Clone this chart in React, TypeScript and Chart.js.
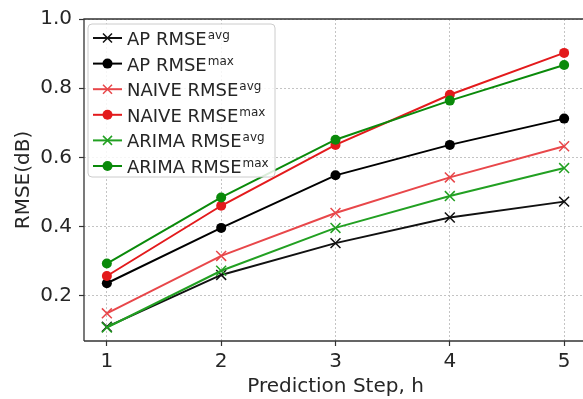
import React, { useEffect, useRef } from 'react';
import { Chart, registerables } from 'chart.js';

Chart.register(...registerables);

// ---- data ----
const steps = [1, 2, 3, 4, 5];
const apAvg = [0.11, 0.26, 0.352, 0.426, 0.472];
const apMax = [0.236, 0.396, 0.548, 0.636, 0.712];
const naiveAvg = [0.149, 0.315, 0.439, 0.542, 0.632];
const naiveMax = [0.257, 0.46, 0.636, 0.781, 0.902];
const arimaAvg = [0.108, 0.272, 0.396, 0.488, 0.569];
const arimaMax = [0.293, 0.484, 0.651, 0.764, 0.867];

const seriesBase = ['AP RMSE', 'AP RMSE', 'NAIVE RMSE', 'NAIVE RMSE', 'ARIMA RMSE', 'ARIMA RMSE'];
const seriesSup = ['avg', 'max', 'avg', 'max', 'avg', 'max'];
const seriesValues = [apAvg, apMax, naiveAvg, naiveMax, arimaAvg, arimaMax];
const seriesColors = ['#111111', '#000000', '#e8474a', '#e31a1c', '#22a022', '#0a8a0a'];
const seriesMarkers = ['crossRot', 'circle', 'crossRot', 'circle', 'crossRot', 'circle'];

const xTitle = 'Prediction Step, h';
const yTitle = 'RMSE(dB)';

const FONT = '"DejaVu Sans", "Liberation Sans", sans-serif';
const TEXT = '#262626';

const spinePlugin = {
  id: 'spines',
  beforeDatasetsDraw(chart: any) {
    const { ctx, chartArea: a } = chart;
    ctx.save();
    ctx.strokeStyle = '#333333';
    ctx.lineWidth = 1.3;
    ctx.beginPath();
    ctx.moveTo(a.left, a.bottom);
    ctx.lineTo(a.left, a.top);
    ctx.lineTo(a.right + 20, a.top);
    ctx.moveTo(a.left, a.bottom);
    ctx.lineTo(a.right + 20, a.bottom);
    ctx.stroke();
    ctx.restore();
  },
};

const legendPlugin = {
  id: 'mplLegend',
  afterDraw(chart: any) {
    const { ctx, chartArea: a } = chart;
    const x0 = a.left + 4;
    const y0 = a.top + 5;
    const w = 187;
    const h = 153;
    const r = 4;
    ctx.save();
    ctx.beginPath();
    ctx.moveTo(x0 + r, y0);
    ctx.lineTo(x0 + w - r, y0);
    ctx.arcTo(x0 + w, y0, x0 + w, y0 + r, r);
    ctx.lineTo(x0 + w, y0 + h - r);
    ctx.arcTo(x0 + w, y0 + h, x0 + w - r, y0 + h, r);
    ctx.lineTo(x0 + r, y0 + h);
    ctx.arcTo(x0, y0 + h, x0, y0 + h - r, r);
    ctx.lineTo(x0, y0 + r);
    ctx.arcTo(x0, y0, x0 + r, y0, r);
    ctx.closePath();
    ctx.fillStyle = 'rgba(255,255,255,0.85)';
    ctx.fill();
    ctx.strokeStyle = '#cccccc';
    ctx.lineWidth = 1;
    ctx.stroke();

    chart.data.datasets.forEach((ds: any, i: number) => {
      const cy = y0 + 14 + i * 25.6;
      ctx.strokeStyle = ds.borderColor;
      ctx.lineWidth = 2;
      ctx.beginPath();
      ctx.moveTo(x0 + 5, cy);
      ctx.lineTo(x0 + 34, cy);
      ctx.stroke();
      const mx = x0 + 19.5;
      if (ds.pointStyle === 'circle') {
        ctx.fillStyle = ds.pointBackgroundColor;
        ctx.beginPath();
        ctx.arc(mx, cy, 5, 0, Math.PI * 2);
        ctx.fill();
      } else {
        const d = 4.5;
        ctx.strokeStyle = ds.pointBorderColor;
        ctx.lineWidth = 1.5;
        ctx.beginPath();
        ctx.moveTo(mx - d, cy - d);
        ctx.lineTo(mx + d, cy + d);
        ctx.moveTo(mx - d, cy + d);
        ctx.lineTo(mx + d, cy - d);
        ctx.stroke();
      }
      ctx.fillStyle = TEXT;
      ctx.textBaseline = 'alphabetic';
      ctx.textAlign = 'left';
      ctx.font = `18px ${FONT}`;
      const tx = x0 + 39;
      ctx.fillText(seriesBase[i], tx, cy + 7);
      const bw = ctx.measureText(seriesBase[i]).width;
      ctx.font = `12px ${FONT}`;
      ctx.fillText(seriesSup[i], tx + bw + 1, cy + 1);
    });
    ctx.restore();
  },
};

export default function App() {
  const ref = useRef<HTMLCanvasElement>(null);

  useEffect(() => {
    if (!ref.current) return;
    const datasets = seriesValues.map((vals, i) => ({
      label: seriesBase[i] + ' ' + seriesSup[i],
      data: steps.map((s, j) => ({ x: s, y: vals[j] })),
      borderColor: seriesColors[i],
      backgroundColor: seriesColors[i],
      pointBackgroundColor: seriesColors[i],
      pointBorderColor: seriesColors[i],
      pointStyle: seriesMarkers[i],
      pointRadius: seriesMarkers[i] === 'circle' ? 5 : 7,
      pointBorderWidth: seriesMarkers[i] === 'circle' ? 0 : 1.5,
      borderWidth: 2,
      tension: 0,
      fill: false,
      order: seriesValues.length - i,
    }));

    const chart = new Chart(ref.current, {
      type: 'line',
      data: { datasets },
      options: {
        responsive: false,
        animation: false,
        devicePixelRatio: 1,
        layout: { padding: { top: 15, right: 13, bottom: 0, left: 0 } },
        plugins: { legend: { display: false }, tooltip: { enabled: false } },
        scales: {
          x: {
            type: 'linear',
            min: 0.8,
            max: 5.2,
            afterFit: (s: any) => { s.height = 58; },
            ticks: {
              stepSize: 1,
              includeBounds: false,
              color: TEXT,
              font: { family: FONT, size: 20 },
              padding: 4,
              callback: (v: any) => String(v),
            },
            grid: {
              color: '#c4c4c4',
              lineWidth: 1,
              tickLength: 5,
              tickColor: '#333333',
              tickWidth: 1.2,
              drawTicks: true,
            },
            border: { display: false, dash: [2, 2] },
            title: {
              display: true,
              text: xTitle,
              color: TEXT,
              font: { family: FONT, size: 20 },
              padding: { top: 0, bottom: 0 },
            },
          },
          y: {
            type: 'linear',
            min: 0.069,
            max: 1.0,
            afterFit: (s: any) => { s.width = 84; },
            ticks: {
              stepSize: 0.2,
              includeBounds: false,
              color: TEXT,
              font: { family: FONT, size: 20 },
              padding: 7,
              callback: (v: any) => Number(v).toFixed(1),
            },
            grid: {
              color: '#c4c4c4',
              lineWidth: 1,
              tickLength: 5,
              tickColor: '#333333',
              tickWidth: 1.2,
              drawTicks: true,
            },
            border: { display: false, dash: [2, 2] },
            title: {
              display: true,
              text: yTitle,
              color: TEXT,
              font: { family: FONT, size: 20 },
              padding: { top: 12, bottom: 0 },
            },
          },
        },
      },
      plugins: [spinePlugin, legendPlugin],
    } as any);
    return () => chart.destroy();
  }, []);

  return (
    <div style={{ position: 'fixed', left: 0, top: 0, width: 583, height: 399, overflow: 'hidden', background: '#fff' }}>
      <canvas ref={ref} width={600} height={399} style={{ display: 'block' }} />
    </div>
  );
}
